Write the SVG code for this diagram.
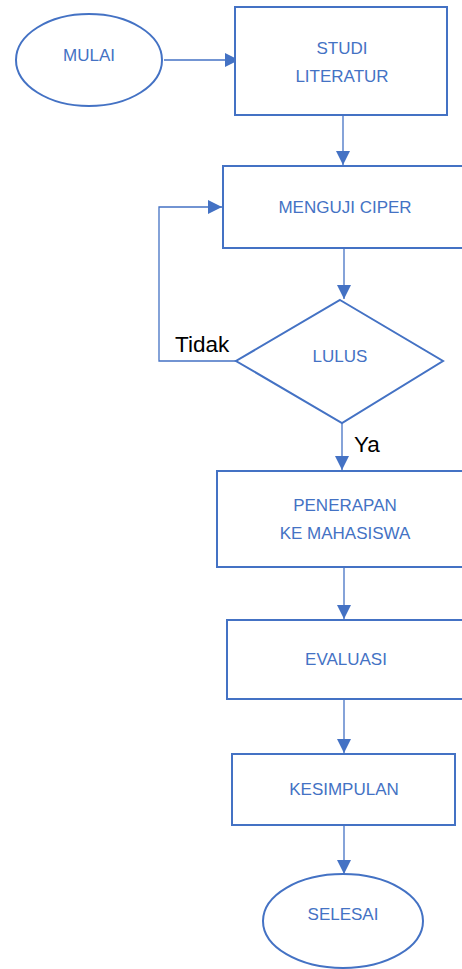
<svg xmlns="http://www.w3.org/2000/svg" width="462" height="969" viewBox="0 0 462 969">
<style>
.shape{fill:#ffffff;stroke:#4472C4;stroke-width:2}
.lbl{font-family:"Liberation Sans",Arial,sans-serif;font-size:17px;fill:#4472C4;text-anchor:middle}
.conn{fill:none;stroke:#4472C4;stroke-width:1.3}
.note{font-family:"Liberation Sans",Arial,sans-serif;font-size:22.5px;fill:#000000}
</style>
<defs>
<marker id="arr" viewBox="0 0 10 10" refX="10" refY="5" markerWidth="15" markerHeight="14" markerUnits="userSpaceOnUse" orient="auto">
<path d="M0,0 L10,5 L0,10 Z" fill="#4472C4"/>
</marker>
</defs>
<rect width="462" height="969" fill="#ffffff"/>
<g id="connectors">
<line class="conn" x1="164" y1="60" x2="239" y2="60" marker-end="url(#arr)"/>
<line class="conn" x1="343" y1="116" x2="343" y2="165" marker-end="url(#arr)"/>
<line class="conn" x1="344" y1="249" x2="344" y2="299" marker-end="url(#arr)"/>
<polyline class="conn" points="236,361 159,361 159,207 222,207" marker-end="url(#arr)"/>
<line class="conn" x1="342" y1="423" x2="342" y2="470" marker-end="url(#arr)"/>
<line class="conn" x1="344" y1="567" x2="344" y2="619" marker-end="url(#arr)"/>
<line class="conn" x1="344" y1="700" x2="344" y2="753" marker-end="url(#arr)"/>
<line class="conn" x1="344" y1="825" x2="344" y2="874" marker-end="url(#arr)"/>
<text class="note" x="175" y="352">Tidak</text>
<text class="note" x="354" y="452">Ya</text>
</g>
<g id="mulai">
<ellipse class="shape" cx="89" cy="60" rx="73" ry="46"/>
<text class="lbl" x="89" y="61">MULAI</text>
</g>
<g id="studi">
<rect class="shape" x="235" y="7" width="212" height="108"/>
<text class="lbl" x="342" y="54">STUDI</text>
<text class="lbl" x="342" y="82">LITERATUR</text>
</g>
<g id="menguji">
<rect class="shape" x="223" y="166" width="250" height="82"/>
<text class="lbl" x="345" y="213">MENGUJI CIPER</text>
</g>
<g id="lulus">
<polygon class="shape" points="340,300 443,361 342,423 236,361"/>
<text class="lbl" x="340" y="362">LULUS</text>
</g>
<g id="penerapan">
<rect class="shape" x="217" y="471" width="256" height="96"/>
<text class="lbl" x="345" y="511">PENERAPAN</text>
<text class="lbl" x="345" y="539">KE MAHASISWA</text>
</g>
<g id="evaluasi">
<rect class="shape" x="227" y="620" width="246" height="79"/>
<text class="lbl" x="346" y="665">EVALUASI</text>
</g>
<g id="kesimpulan">
<rect class="shape" x="232" y="754" width="223" height="71"/>
<text class="lbl" x="344" y="795">KESIMPULAN</text>
</g>
<g id="selesai">
<ellipse class="shape" cx="343" cy="921" rx="80" ry="47"/>
<text class="lbl" x="343" y="920">SELESAI</text>
</g>
</svg>
